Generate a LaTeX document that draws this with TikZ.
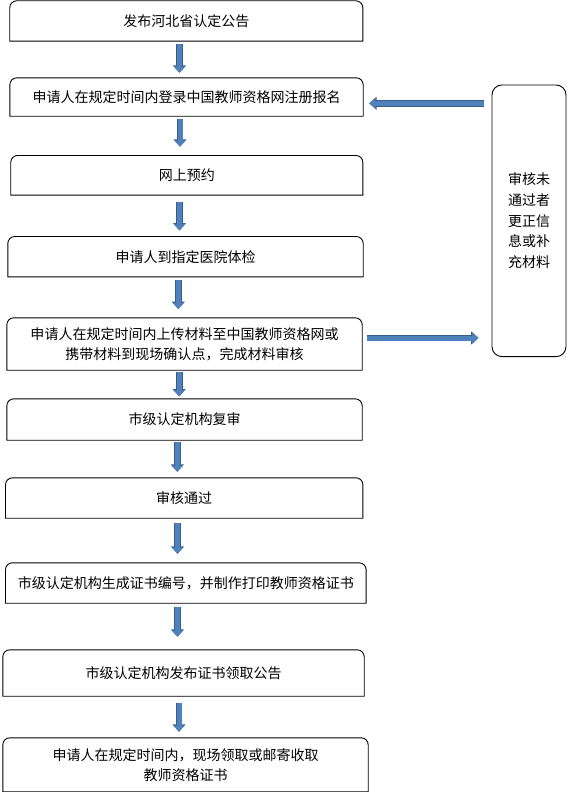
\documentclass[tikz,border=0pt]{standalone}
\usepackage{fontspec}
\setmainfont{Noto Sans CJK SC}
\usetikzlibrary{arrows.meta}
\definecolor{arrowfill}{HTML}{4F81BD}
\definecolor{arrowedge}{HTML}{385D8A}
\begin{document}
\begin{tikzpicture}[x=1pt,y=1pt,
  stepbox/.style={inner sep=0pt, align=center, font=\fontsize{14}{20}\selectfont},
  flow/.style={preaction={draw=arrowedge, line width=6.8pt, -{Triangle[length=7.4pt,width=12.6pt]}},
    draw=arrowfill, line width=5pt, -{Triangle[length=6.2pt,width=10.8pt]}}]
\useasboundingbox (0,0) rectangle (567,-792);

\node[stepbox, minimum width=352.7pt, minimum height=40pt] (s1) at (186.3,-21) {发布河北省认定公告};
\node[stepbox, minimum width=353pt, minimum height=38pt] (s2) at (186.5,-97) {申请人在规定时间内登录中国教师资格网注册报名};
\node[stepbox, minimum width=351.7pt, minimum height=39.3pt] (s3) at (186.8,-175.3) {网上预约};
\node[stepbox, minimum width=355pt, minimum height=40pt] (s4) at (185.5,-256.7) {申请人到指定医院体检};
\node[stepbox, minimum width=355pt, minimum height=52pt] (s5) at (184.5,-344) {申请人在规定时间内上传材料至中国教师资格网或\\携带材料到现场确认点，完成材料审核};
\node[stepbox, minimum width=355pt, minimum height=41pt] (s6) at (184.5,-419.5) {市级认定机构复审};
\node[stepbox, minimum width=357pt, minimum height=40pt] (s7) at (184.2,-498) {审核通过};
\node[stepbox, minimum width=360.3pt, minimum height=40pt] (s8) at (185.8,-583) {市级认定机构生成证书编号，并制作打印教师资格证书};
\node[stepbox, minimum width=361pt, minimum height=46pt] (s9) at (183.5,-673) {市级认定机构发布证书领取公告};
\node[stepbox, minimum width=365pt, minimum height=53.5pt] (s10) at (185.5,-764.75) {申请人在规定时间内，现场领取或邮寄收取\\教师资格证书};

% box outlines, rounded on top only
\foreach \n in {s1,s2,s3,s4,s5,s6,s7,s8,s9,s10}
  \draw[line width=0.9pt] (\n.south west) -- ([yshift=-7pt]\n.north west)
    arc[start angle=180, end angle=90, radius=7pt] -- ([xshift=-7pt]\n.north east)
    arc[start angle=90, end angle=0, radius=7pt] -- (\n.south east) -- cycle;

\node[draw, line width=0.9pt, rounded corners=10pt, inner sep=0pt, align=center,
  font=\fontsize{14}{20.8}\selectfont, minimum width=74pt, minimum height=271.7pt] (fix) at (529,-220.8)
  {审核未\\通过者\\更正信\\息或补\\充材料};

\draw[flow, shorten <=3pt, shorten >=5pt] ([xshift=-6.8pt]s1.south) -- ([xshift=-6.8pt]s1.south |- s2.north);
\draw[flow, shorten <=2.7pt, shorten >=8.7pt] ([xshift=-6.5pt]s2.south) -- ([xshift=-6.5pt]s2.south |- s3.north);
\draw[flow, shorten <=6.7pt, shorten >=6pt] ([xshift=-7.3pt]s3.south) -- ([xshift=-7.3pt]s3.south |- s4.north);
\draw[flow, shorten <=3.3pt, shorten >=8.7pt] ([xshift=-7.2pt]s4.south) -- ([xshift=-7.2pt]s4.south |- s5.north);
\draw[flow, shorten <=2pt, shorten >=2.3pt] ([xshift=-5.3pt]s5.south) -- ([xshift=-5.3pt]s5.south |- s6.north);
\draw[flow, shorten <=2pt, shorten >=6pt] ([xshift=-7.2pt]s6.south) -- ([xshift=-7.2pt]s6.south |- s7.north);
\draw[flow, shorten <=5pt, shorten >=9pt] ([xshift=-6.7pt]s7.south) -- ([xshift=-6.7pt]s7.south |- s8.north);
\draw[flow, shorten <=4pt, shorten >=13pt] ([xshift=-8.3pt]s8.south) -- ([xshift=-8.3pt]s8.south |- s9.north);
\draw[flow, shorten <=7pt, shorten >=6pt] ([xshift=-4.5pt]s9.south) -- ([xshift=-4.5pt]s9.south |- s10.north);

\coordinate (back) at ([yshift=-6.3pt]s2.east);
\coordinate (out) at ([yshift=6pt]s5.east);
\draw[flow, shorten <=8pt, shorten >=6pt] (fix.west |- back) -- (back);
\draw[flow, shorten <=5pt, shorten >=13pt] (out) -- (out -| fix.west);
\end{tikzpicture}
\end{document}
